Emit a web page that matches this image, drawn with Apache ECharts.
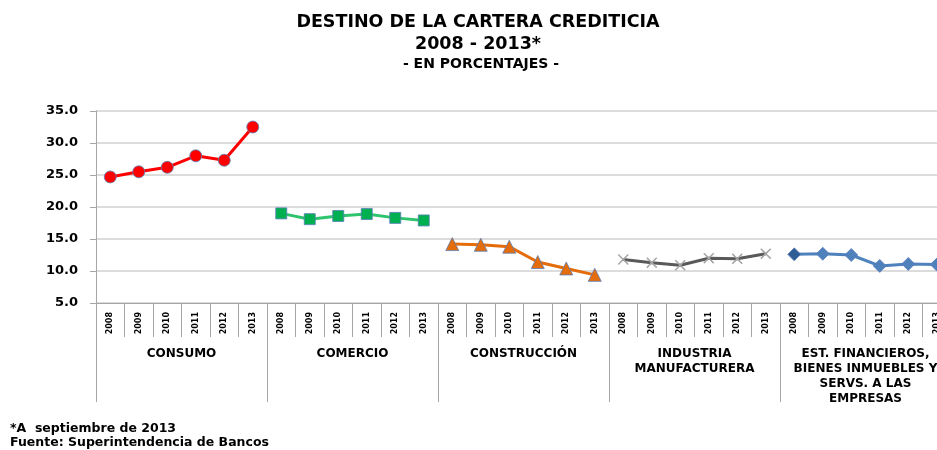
<!DOCTYPE html>
<html>
<head>
<meta charset="utf-8">
<script src="https://cdn.jsdelivr.net/npm/echarts@6/dist/echarts.min.js"></script>
<style>
  html, body { margin: 0; padding: 0; background: #fff; overflow: hidden; }
  #chart { width: 960px; height: 450px; }
</style>
</head>
<body>
<div id="chart"></div>
<script>
const years = ["2008", "2009", "2010", "2011", "2012", "2013"];
const groups = [
  "CONSUMO",
  "COMERCIO",
  "CONSTRUCCIÓN",
  "INDUSTRIA\nMANUFACTURERA",
  "EST. FINANCIEROS,\nBIENES INMUEBLES Y\nSERVS. A LAS\nEMPRESAS",
];
const consumo = [24.7, 25.5, 26.2, 28.0, 27.3, 32.5];
const comercio = [19.0, 18.1, 18.6, 18.9, 18.3, 17.9];
const construccion = [14.2, 14.1, 13.8, 11.4, 10.4, 9.4];
const industria = [11.8, 11.3, 10.9, 12.0, 11.9, 12.7];
const financieros = [12.6, 12.7, 12.5, 10.8, 11.1, 11.0];
const yTicks = [5, 10, 15, 20, 25, 30, 35];

const FONT = "DejaVu Sans";
const categories = groups.flatMap(() => years);

// put a group's six values in its slot of the 30 categories
const place = (g, values) =>
  categories.map((_, i) =>
    Math.floor(i / years.length) === g ? values[i % years.length] : null
  );

const crossPath =
  "path://M0,1L1,0L5,4L9,0L10,1L6,5L10,9L9,10L5,6L1,10L0,9L4,5Z";

const makeSeries = (name, g, values, lineColor, symbol, markColor, size) => ({
  name,
  type: "line",
  xAxisIndex: 0,
  data: place(g, values),
  connectNulls: false,
  symbol,
  symbolSize: size,
  lineStyle: { color: lineColor, width: 3 },
  itemStyle: {
    color: markColor,
    borderColor: symbol === crossPath ? markColor : "#5b7db8",
    borderWidth: symbol === crossPath ? 0 : 0.8,
  },
  z: 3,
});

const chart = echarts.init(document.getElementById("chart"));

const finSeries = makeSeries("fin", 4, financieros, "#4F81BD", "diamond", "#4F81BD", 13);
finSeries.data = finSeries.data.map((v, i) =>
  i === 24 ? { value: v, itemStyle: { color: "#2E5C94" } } : v
);

const tickLine = { color: "#A6A6A6", width: 1 };

chart.setOption({
  animation: false,
  grid: { left: 96, right: 9, top: 111, bottom: 147 },
  graphic: [
    {
      type: "text", x: 478, y: 13,
      style: { text: "DESTINO DE LA CARTERA CREDITICIA", font: `bold 17.5px "${FONT}"`, fill: "#000", textAlign: "center" },
    },
    {
      type: "text", x: 478, y: 35,
      style: { text: "2008 - 2013*", font: `bold 17.5px "${FONT}"`, fill: "#000", textAlign: "center" },
    },
    {
      type: "text", x: 481, y: 57,
      style: { text: "- EN PORCENTAJES -", font: `bold 14px "${FONT}"`, fill: "#000", textAlign: "center" },
    },
    {
      type: "text", x: 10, y: 422,
      style: { text: "*A  septiembre de 2013", font: `bold 12.5px "${FONT}"`, fill: "#000" },
    },
    {
      type: "text", x: 10, y: 436,
      style: { text: "Fuente: Superintendencia de Bancos", font: `bold 12.5px "${FONT}"`, fill: "#000" },
    },
  ],
  xAxis: [
    {
      type: "category",
      data: categories,
      position: "bottom",
      boundaryGap: true,
      axisLine: { show: true, lineStyle: tickLine },
      axisTick: { show: true, interval: 0, length: 34, lineStyle: tickLine },
      axisLabel: {
        interval: 0, rotate: 90, margin: 9,
        fontFamily: FONT, fontWeight: "bold", fontSize: 8, color: "#000",
      },
    },
    {
      type: "category",
      data: groups,
      position: "bottom",
      boundaryGap: true,
      axisLine: { show: false },
      axisTick: { show: true, interval: 0, length: 99, lineStyle: tickLine },
      axisLabel: {
        interval: 0, margin: 43, lineHeight: 15,
        fontFamily: FONT, fontWeight: "bold", fontSize: 12, color: "#000",
      },
    },
  ],
  yAxis: {
    type: "value",
    min: 5,
    max: 35,
    interval: 5,
    axisLine: { show: true, lineStyle: tickLine },
    axisTick: { show: true, length: 6, lineStyle: tickLine },
    splitLine: { lineStyle: { color: "#D0D0D0", width: 1.5 } },
    axisLabel: {
      margin: 18,
      fontFamily: FONT, fontWeight: "bold", fontSize: 13, color: "#000",
      formatter: (v) => (yTicks.includes(v) ? v.toFixed(1) : ""),
    },
  },
  series: [
    makeSeries("consumo", 0, consumo, "#FF0000", "circle", "#FF0000", 12),
    makeSeries("comercio", 1, comercio, "#2EC46E", "rect", "#00B050", 11),
    makeSeries("construccion", 2, construccion, "#E46C0A", "triangle", "#E46C0A", 13),
    makeSeries("industria", 3, industria, "#595959", crossPath, "#A6A6A6", 11),
    finSeries,
  ],
});
</script>
</body>
</html>
